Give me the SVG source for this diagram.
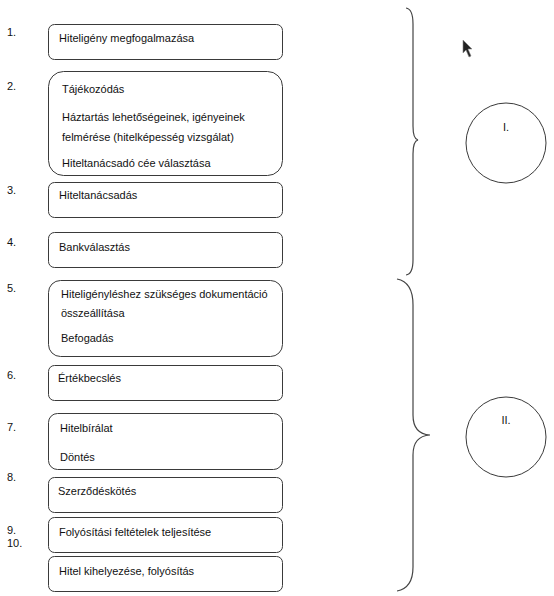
<svg xmlns="http://www.w3.org/2000/svg" width="554" height="596" viewBox="0 0 554 596">
<style>
text{font-family:"Liberation Sans",Arial,sans-serif;font-size:11px;fill:#111}
.box{fill:#fff;stroke:#3a3a3a;stroke-width:1}
.num{font-size:11px}
.brace{fill:none;stroke:#444;stroke-width:1.2}
.circ{fill:#fff;stroke:#3a3a3a;stroke-width:1}
</style>
<rect width="554" height="596" fill="#fff"/>
<g id="labels">
<text class="num" x="7" y="36">1.</text>
<text class="num" x="7" y="90">2.</text>
<text class="num" x="7" y="194">3.</text>
<text class="num" x="7" y="246">4.</text>
<text class="num" x="7" y="292">5.</text>
<text class="num" x="7" y="379">6.</text>
<text class="num" x="7" y="431">7.</text>
<text class="num" x="7" y="481">8.</text>
<text class="num" x="7" y="534">9.</text>
<text class="num" x="7" y="547">10.</text>
</g>
<g id="n1"><rect class="box" x="48.5" y="24.5" width="234" height="35" rx="6"/><text x="59" y="42">Hiteligény megfogalmazása</text></g>
<g id="n2"><rect class="box" x="48.5" y="71.5" width="234" height="104" rx="15"/>
<text x="62" y="93">Tájékozódás</text>
<text x="62" y="121">Háztartás lehetőségeinek, igényeinek</text>
<text x="62" y="141">felmérése (hitelképesség vizsgálat)</text>
<text x="62" y="167">Hiteltanácsadó cée választása</text></g>
<g id="n3"><rect class="box" x="48.5" y="182.5" width="234" height="35" rx="6"/><text x="59" y="199">Hiteltanácsadás</text></g>
<g id="n4"><rect class="box" x="48.5" y="232.5" width="234" height="35" rx="6"/><text x="59" y="251">Bankválasztás</text></g>
<g id="n5"><rect class="box" x="48.5" y="280.5" width="234" height="76" rx="12"/>
<text x="61" y="298">Hiteligényléshez szükséges dokumentáció</text>
<text x="61" y="317">összeállítása</text>
<text x="61" y="342">Befogadás</text></g>
<g id="n6"><rect class="box" x="48.5" y="365.5" width="234" height="35" rx="6"/><text x="58" y="382">Értékbecslés</text></g>
<g id="n7"><rect class="box" x="48.5" y="413.5" width="234" height="56" rx="9"/>
<text x="60" y="432">Hitelbírálat</text>
<text x="60" y="461">Döntés</text></g>
<g id="n8"><rect class="box" x="48.5" y="477.5" width="234" height="35" rx="6"/><text x="58" y="495">Szerződéskötés</text></g>
<g id="n9"><rect class="box" x="48.5" y="517.5" width="234" height="35" rx="6"/><text x="59" y="536">Folyósítási feltételek teljesítése</text></g>
<g id="n10"><rect class="box" x="48.5" y="556.5" width="234" height="35" rx="6"/><text x="59" y="575">Hitel kihelyezése, folyósítás</text></g>
<g id="connectors">
<path class="brace" d="M406,8 Q413,9 413,24 L413,126 Q413,139 418,140 Q413,141 413,154 L413,260 Q413,274 406,275"/>
<path class="brace" d="M397,279 Q413,282 413,305 L413,415 Q413,434 430,435 Q413,436 413,455 L413,567 Q413,588 397,591"/>
</g>
<g id="phaseI"><circle class="circ" cx="506" cy="143" r="40"/><text x="506" y="131" text-anchor="middle">I.</text></g>
<g id="phaseII"><circle class="circ" cx="506" cy="437" r="40"/><text x="506" y="424" text-anchor="middle">II.</text></g>
<g id="cursor">
<polygon points="463,40 463,53 466,50 469,57 471,56 468,49 472,49" fill="#222" stroke="#888" stroke-width="0.6"/>
</g>
</svg>
